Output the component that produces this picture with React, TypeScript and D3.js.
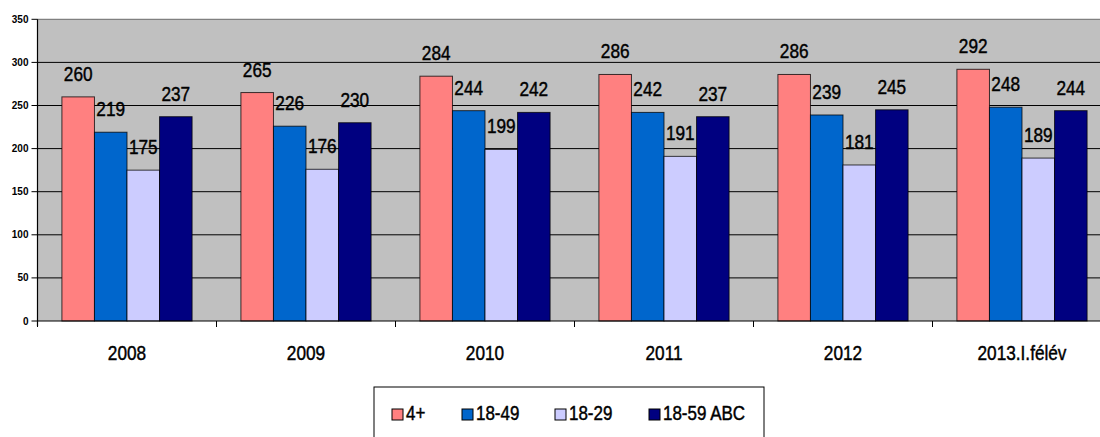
import React from "react";
import * as d3 from "d3";

const categories = ["2008", "2009", "2010", "2011", "2012", "2013.I.félév"];
const seriesNames = ["4+", "18-49", "18-29", "18-59 ABC"];
const s4plus = [260, 265, 284, 286, 286, 292];
const s1849 = [219, 226, 244, 242, 239, 248];
const s1829 = [175, 176, 199, 191, 181, 189];
const s1859abc = [237, 230, 242, 237, 245, 244];
const yTicks = [0, 50, 100, 150, 200, 250, 300, 350];
const colors = ["#FF8080", "#0066CC", "#CCCCFF", "#000080"];

const W = 1100;
const H = 437;
const plotLeft = 37.5;
const plotTop = 19.3;
const plotBottom = 321;
const catStep = 179;
const plotRight = plotLeft + catStep * categories.length;
const FONT = "'Liberation Sans', Arial, sans-serif";

function NText(props: {
  x: number;
  y: number;
  sx: number;
  size: number;
  anchor?: string;
  children: React.ReactNode;
}) {
  return (
    <text
      transform={`translate(${props.x},${props.y}) scale(${props.sx},1)`}
      textAnchor={props.anchor || "middle"}
      fontSize={props.size}
      fontWeight="normal"
      fill="#000"
      stroke="#000"
      strokeWidth={0.45}
    >
      {props.children}
    </text>
  );
}

export default function App() {
  const seriesValues = [s4plus, s1849, s1829, s1859abc];
  const y = d3.scaleLinear().domain([0, 350]).range([plotBottom, plotTop]);
  const x0 = d3
    .scaleBand<string>()
    .domain(categories)
    .range([plotLeft, plotRight])
    .paddingInner(1.5 / 5.5)
    .paddingOuter(0.75 / 5.5);
  const x1 = d3
    .scaleBand<string>()
    .domain(seriesNames)
    .range([0, x0.bandwidth()])
    .padding(0);

  const legendSquares = [392, 462, 555, 649];

  return (
    <svg
      width={W}
      height={H}
      style={{ position: "fixed", left: 0, top: 0, display: "block", background: "#fff" }}
      fontFamily={FONT}
    >
      <rect x={plotLeft} y={plotTop} width={plotRight - plotLeft} height={plotBottom - plotTop} fill="#C0C0C0" />
      {yTicks
        .filter((t) => t !== 0 && t !== 350)
        .map((t) => (
          <line key={t} x1={plotLeft} x2={plotRight} y1={y(t)} y2={y(t)} stroke="#000" strokeWidth={1} />
        ))}
      <line x1={plotLeft} x2={plotRight} y1={y(350)} y2={y(350)} stroke="#808080" strokeWidth={1.2} />
      {categories.map((c, ci) => (
        <g key={c}>
          {seriesNames.map((s, si) => {
            const v = seriesValues[si][ci];
            const bx = (x0(c) as number) + (x1(s) as number);
            return (
              <rect
                key={s}
                x={bx}
                y={y(v)}
                width={x1.bandwidth()}
                height={plotBottom - y(v)}
                fill={colors[si]}
                stroke="#000"
                strokeWidth={1}
                strokeOpacity={0.75}
              />
            );
          })}
        </g>
      ))}
      <line x1={plotLeft} x2={plotLeft} y1={plotTop} y2={plotBottom + 5} stroke="#000" strokeWidth={1.2} />
      <line x1={plotLeft} x2={plotRight} y1={plotBottom} y2={plotBottom} stroke="#000" strokeWidth={1.2} />
      {yTicks.map((t) => (
        <g key={t}>
          <line x1={plotLeft - 6} x2={plotLeft} y1={y(t)} y2={y(t)} stroke="#000" strokeWidth={1} />
          <text x={28.5} y={y(t)} dy="0.35em" textAnchor="end" fontSize={10} fontWeight="bold" fill="#000">
            {t}
          </text>
        </g>
      ))}
      {d3.range(categories.length + 1).map((i) => (
        <line
          key={i}
          x1={plotLeft + i * catStep}
          x2={plotLeft + i * catStep}
          y1={plotBottom}
          y2={plotBottom + 6}
          stroke="#000"
          strokeWidth={1}
        />
      ))}
      {categories.map((c) => (
        <NText key={c} x={(x0(c) as number) + x0.bandwidth() / 2} y={360} sx={0.82} size={21}>
          {c}
        </NText>
      ))}
      {categories.map((c, ci) =>
        seriesNames.map((s, si) => {
          const v = seriesValues[si][ci];
          const cx = (x0(c) as number) + (x1(s) as number) + x1.bandwidth() / 2;
          return (
            <NText key={c + s} x={cx} y={y(v) - 16} sx={0.84} size={20.5}>
              {v}
            </NText>
          );
        })
      )}
      <rect x={374} y={387} width={390} height={70} fill="#fff" stroke="#000" strokeWidth={1} />
      {seriesNames.map((s, i) => (
        <g key={s}>
          <rect x={legendSquares[i]} y={409} width={11} height={11} fill={colors[i]} stroke="#000" strokeWidth={1} />
          <NText x={legendSquares[i] + 14} y={420} sx={0.87} size={19.5} anchor="start">
            {s}
          </NText>
        </g>
      ))}
    </svg>
  );
}
